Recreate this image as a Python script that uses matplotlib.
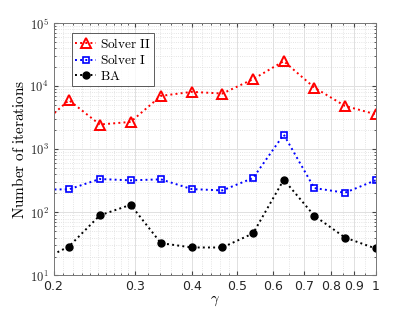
import matplotlib
matplotlib.use('Agg')
import matplotlib.pyplot as plt
from matplotlib.ticker import FixedLocator, FixedFormatter, LogLocator, NullFormatter

plt.rcParams['mathtext.fontset'] = 'cm'

# gamma values (first one lies just left of the visible range)
gamma = [0.186, 0.216, 0.252, 0.294, 0.342, 0.399, 0.465, 0.542, 0.632, 0.736, 0.858, 1.0]

# iterations per method
solver2 = [2280, 6000, 2470, 2715, 7020, 8130, 7650, 12900, 24900, 9530, 4870, 3590]
solver1 = [230, 232, 338, 322, 334, 234, 223, 350, 1710, 243, 205, 322]
ba = [16.7, 28.8, 89.6, 132, 32.6, 27.8, 27.8, 46.4, 330, 88.7, 40, 26.8]

xticks = [0.2, 0.3, 0.4, 0.5, 0.6, 0.7, 0.8, 0.9, 1]
xticklabels = ['0.2', '0.3', '0.4', '0.5', '0.6', '0.7', '0.8', '0.9', '1']
yticks = [1e1, 1e2, 1e3, 1e4, 1e5]
yticklabels = [r'$\mathsf{10^{1}}$', r'$\mathsf{10^{2}}$', r'$\mathsf{10^{3}}$',
               r'$\mathsf{10^{4}}$', r'$\mathsf{10^{5}}$']

fig = plt.figure(figsize=(4.15, 3.12), dpi=100)
ax = fig.add_axes([0.129, 0.117, 0.776, 0.809])

ax.plot(gamma, solver2, ':', color='red', lw=1.4, marker='^', ms=6.5, mfc='none', mew=1.4,
        label=r'$\mathrm{Solver\ II}$')
ax.plot(gamma, solver1, ':', color='blue', lw=1.4, marker='s', ms=4.5, mfc='none', mew=1.2,
        label=r'$\mathrm{Solver\ I}$')
ax.plot(gamma, ba, ':', color='black', lw=1.4, marker='o', ms=5, mfc='black',
        label=r'$\mathrm{BA}$')

ax.set_xscale('log')
ax.set_yscale('log')
ax.set_xlim(0.2, 1)
ax.set_ylim(10, 1e5)

ax.xaxis.set_major_locator(FixedLocator(xticks))
ax.xaxis.set_major_formatter(FixedFormatter(xticklabels))
ax.xaxis.set_minor_locator(FixedLocator([0.21, 0.22, 0.23, 0.24, 0.25, 0.26, 0.27, 0.28, 0.29,
                                         0.32, 0.34, 0.36, 0.38, 0.42, 0.44, 0.46, 0.48,
                                         0.55, 0.65, 0.75, 0.85, 0.95]))
ax.xaxis.set_minor_formatter(NullFormatter())
ax.yaxis.set_major_locator(FixedLocator(yticks))
ax.yaxis.set_major_formatter(FixedFormatter(yticklabels))
ax.yaxis.set_minor_locator(LogLocator(base=10, subs=range(2, 10)))
ax.yaxis.set_minor_formatter(NullFormatter())

ax.grid(True, which='major', color='#e0e0e0', lw=0.7, ls='-')
ax.grid(True, which='minor', color='#dcdcdc', lw=0.6, ls=':')
ax.set_axisbelow(True)

for s in ax.spines.values():
    s.set_color('#777777')
    s.set_linewidth(0.7)
ax.tick_params(which='both', direction='in', top=True, right=True, colors='#444444',
               labelsize=9, labelcolor='#262626')
ax.tick_params(which='major', length=3)
ax.tick_params(which='minor', length=1.5)

ax.set_xlabel(r'$\gamma$', fontsize=10.5, labelpad=0)
ax.set_ylabel(r'$\mathrm{Number\ of\ iterations}$', fontsize=11, labelpad=2)

leg = ax.legend(loc='upper left', bbox_to_anchor=(0.045, 0.975), fontsize=9.5, frameon=True,
                fancybox=False, handlelength=1.6, handletextpad=0.25, borderpad=0.25,
                labelspacing=0.2, borderaxespad=0.3)
leg.get_frame().set_edgecolor('#333333')
leg.get_frame().set_linewidth(0.7)

fig.savefig('out.png', dpi=100)
